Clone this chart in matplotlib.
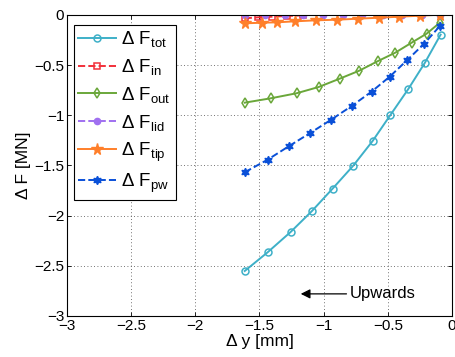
import matplotlib
matplotlib.use("Agg")
import matplotlib.pyplot as plt

plt.rcParams['font.family'] = ['Liberation Sans', 'DejaVu Sans']
plt.rcParams['mathtext.fontset'] = 'custom'
plt.rcParams['mathtext.rm'] = 'Liberation Sans'
plt.rcParams['mathtext.it'] = 'Liberation Sans:italic'

# Data
x_tot = [-1.615, -1.436, -1.257, -1.093, -0.930, -0.769, -0.618, -0.481, -0.341, -0.210, -0.088]
y_tot = [-2.552, -2.365, -2.163, -1.957, -1.731, -1.502, -1.256, -1.000, -0.740, -0.475, -0.196]

x_in = [-1.615, -1.509, -1.400, -1.288, -1.159]
y_in = [-0.033, -0.023, -0.017, -0.010, -0.003]

x_out = [-1.615, -1.410, -1.210, -1.039, -0.875, -0.722, -0.579, -0.442, -0.314, -0.197, -0.094]
y_out = [-0.874, -0.830, -0.780, -0.718, -0.635, -0.555, -0.461, -0.376, -0.276, -0.186, -0.077]

x_lid = [-1.615, -1.457, -1.301, -1.159, -1.003, -0.847, -0.699, -0.540, -0.392, -0.236, -0.094]
y_lid = [-0.003, -0.003, -0.003, -0.003, -0.003, -0.003, -0.003, -0.003, -0.003, -0.003, -0.003]

x_tip = [-1.615, -1.483, -1.362, -1.221, -1.058, -0.896, -0.733, -0.566, -0.411, -0.247, -0.094]
y_tip = [-0.083, -0.077, -0.073, -0.063, -0.053, -0.047, -0.037, -0.027, -0.017, -0.007, 0.003]

x_pw = [-1.615, -1.436, -1.272, -1.108, -0.945, -0.781, -0.626, -0.485, -0.348, -0.216, -0.094]
y_pw = [-1.568, -1.442, -1.309, -1.179, -1.047, -0.907, -0.764, -0.615, -0.449, -0.286, -0.110]

labels = ['tot', 'in', 'out', 'lid', 'tip', 'pw']
xticks = [-3, -2.5, -2, -1.5, -1, -0.5, 0]
yticks = [0, -0.5, -1, -1.5, -2, -2.5, -3]

fig = plt.figure(figsize=(4.56, 3.57), dpi=100)
ax = fig.add_axes([0.147, 0.115, 0.844, 0.843])

def lab(s):
    return r'$\Delta\ \mathrm{F}_{\mathrm{%s}}$' % s

ax.plot(x_tot, y_tot, '-', color='#3eb0c8', marker='o', mfc='none', ms=5, mew=1.1, lw=1.4, label=lab(labels[0]))
ax.plot(x_in, y_in, '--', color='#f2303a', marker='s', mfc='none', ms=5, mew=1.1, lw=1.4, label=lab(labels[1]))
ax.plot(x_out, y_out, '-', color='#6aa73a', marker='d', mfc='none', ms=5.5, mew=1.1, lw=1.4, label=lab(labels[2]))
ax.plot(x_lid, y_lid, '--', color='#a070f0', marker='o', ms=4.5, lw=1.4, label=lab(labels[3]))
ax.plot(x_tip, y_tip, '-', color='#ff7f2a', marker='*', ms=8.5, lw=1.4, label=lab(labels[4]))
ax.plot(x_pw, y_pw, '--', color='#0a50d8', marker=(6, 1, 0), ms=6, lw=1.4, label=lab(labels[5]))

ax.set_xlim(-3, 0)
ax.set_ylim(-3, 0)
ax.set_xticks(xticks)
ax.set_yticks(yticks)
ax.set_xticklabels(['\u22123', '\u22122.5', '\u22122', '\u22121.5', '\u22121', '\u22120.5', '0'])
ax.set_yticklabels(['0', '\u22120.5', '\u22121', '\u22121.5', '\u22122', '\u22122.5', '\u22123'])
ax.tick_params(direction='in', top=True, right=True, labelsize=11, length=3, width=0.6, pad=2)
ax.grid(True, which='major', linestyle=(0, (1, 3)), color='#444444', linewidth=0.6)
for sp in ax.spines.values():
    sp.set_linewidth(0.8)

ax.set_xlabel('\u0394 y [mm]', fontsize=12.5, labelpad=1)
ax.set_ylabel('\u0394 F [MN]', fontsize=12.5, labelpad=2)

leg = ax.legend(loc='upper left', fontsize=13.5, frameon=True, fancybox=False,
                edgecolor='black', framealpha=1, handlelength=2.0, borderpad=0.25,
                labelspacing=0.42, handletextpad=0.3, borderaxespad=0.35,
                bbox_to_anchor=(0.0, 0.99))
leg.get_frame().set_linewidth(0.8)

ax.annotate('', xy=(-1.2, -2.78), xytext=(-0.80, -2.78),
            arrowprops=dict(arrowstyle='-|>', color='black', lw=0.9, mutation_scale=14))
ax.text(-0.80, -2.78, 'Upwards', fontsize=12, va='center', ha='left')

fig.savefig('out.png', dpi=100)
